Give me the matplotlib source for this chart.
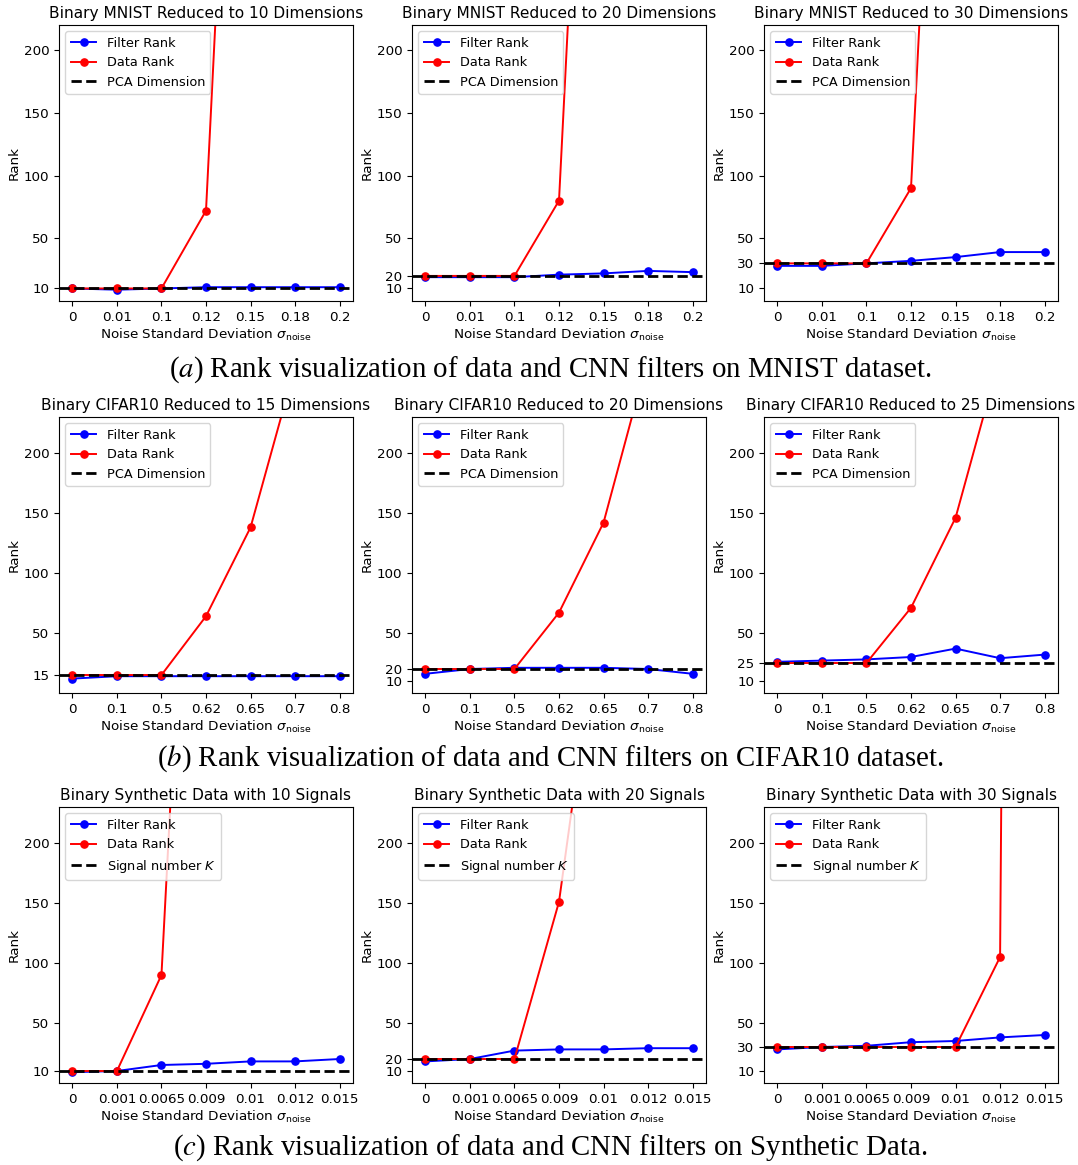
import numpy as np
import matplotlib
matplotlib.use("Agg")
import matplotlib.pyplot as plt

plt.rcParams['font.family'] = ['DejaVu Sans']
plt.rcParams['mathtext.fontset'] = 'dejavusans'

# noise levels (x tick labels) per row
mnist_noise = ['0', '0.01', '0.1', '0.12', '0.15', '0.18', '0.2']
cifar_noise = ['0', '0.1', '0.5', '0.62', '0.65', '0.7', '0.8']
synth_noise = ['0', '0.001', '0.0065', '0.009', '0.01', '0.012', '0.015']

# MNIST
mnist_dims = [10, 20, 30]
mnist_filter = [
    [10, 9, 10, 11, 11, 11, 11],
    [19, 19, 19, 21, 22, 24, 23],
    [28, 28, 30, 32, 35, 39, 39],
]
mnist_data = [
    [10, 10, 10, 72, 784, 784, 784],
    [20, 20, 20, 80, 784, 784, 784],
    [30, 30, 30, 90, 784, 784, 784],
]

# CIFAR10
cifar_dims = [15, 20, 25]
cifar_filter = [
    [12, 14, 14, 14, 14, 14, 14],
    [16, 20, 21, 21, 21, 20, 16],
    [26, 27, 28, 30, 37, 29, 32],
]
cifar_data = [
    [15, 15, 15, 64, 138, 272, 500],
    [20, 20, 20, 67, 142, 280, 500],
    [25, 25, 25, 71, 146, 281, 500],
]

# Synthetic
synth_k = [10, 20, 30]
synth_filter = [
    [9, 10, 15, 16, 18, 18, 20],
    [18, 20, 27, 28, 28, 29, 29],
    [28, 30, 31, 34, 35, 38, 40],
]
synth_data = [
    [10, 10, 90, 800, 800, 800, 800],
    [20, 20, 20, 151, 420, 800, 800],
    [30, 30, 30, 30, 30, 105, 5000],
]

captions = [
    r"($a$) Rank visualization of data and CNN filters on MNIST dataset.",
    r"($b$) Rank visualization of data and CNN filters on CIFAR10 dataset.",
    r"($c$) Rank visualization of data and CNN filters on Synthetic Data.",
]

W, H = 1078, 1165
fig = plt.figure(figsize=(W / 100, H / 100), dpi=100)

lefts = [59, 412, 764]
aw = 294
tops = [25, 417, 807]
ah = 276
cap_y = [370, 759, 1148]
fs = 9.7

rows = [
    (mnist_noise, mnist_dims, mnist_filter, mnist_data,
     "Binary MNIST Reduced to {} Dimensions", "PCA Dimension", 220),
    (cifar_noise, cifar_dims, cifar_filter, cifar_data,
     "Binary CIFAR10 Reduced to {} Dimensions", "PCA Dimension", 230),
    (synth_noise, synth_k, synth_filter, synth_data,
     "Binary Synthetic Data with {} Signals", "Signal number $K$", 230),
]

for r, (noise, dims, filt, data, title, ref_lab, ytop) in enumerate(rows):
    for c in range(3):
        ax = fig.add_axes([lefts[c] / W, 1 - (tops[r] + ah) / H, aw / W, ah / H])
        x = np.arange(len(noise))
        ax.plot(x, filt[c], 'o-', color='blue', ms=5.2, lw=1.4, label='Filter Rank')
        ax.plot(x, data[c], 'o-', color='red', ms=5.2, lw=1.4, label='Data Rank')
        ax.axhline(dims[c], color='black', linestyle='--', linewidth=2, label=ref_lab)
        ax.set_ylim(0, ytop)
        ax.set_xticks(x)
        ax.set_xticklabels(noise)
        yt = [10, dims[c], 50, 100, 150, 200]
        if dims[c] == 10:
            yt = [10, 50, 100, 150, 200]
        if dims[c] == 15:
            yt = [15, 50, 100, 150, 200]
        ax.set_yticks(yt)
        ax.tick_params(labelsize=fs)
        ax.set_title(title.format(dims[c]), fontsize=11.1, pad=5)
        ax.set_xlabel(r"Noise Standard Deviation $\sigma_{\mathrm{noise}}$", fontsize=fs, labelpad=2)
        ax.set_ylabel("Rank", fontsize=fs, labelpad=2)
        ax.legend(loc='upper left', fontsize=9.3)
    fig.text(550 / W, 1 - cap_y[r] / H, captions[r], ha='center', va='center',
             fontsize=20.8, family='Liberation Serif', math_fontfamily='stix')

fig.savefig("out.png", dpi=100)
